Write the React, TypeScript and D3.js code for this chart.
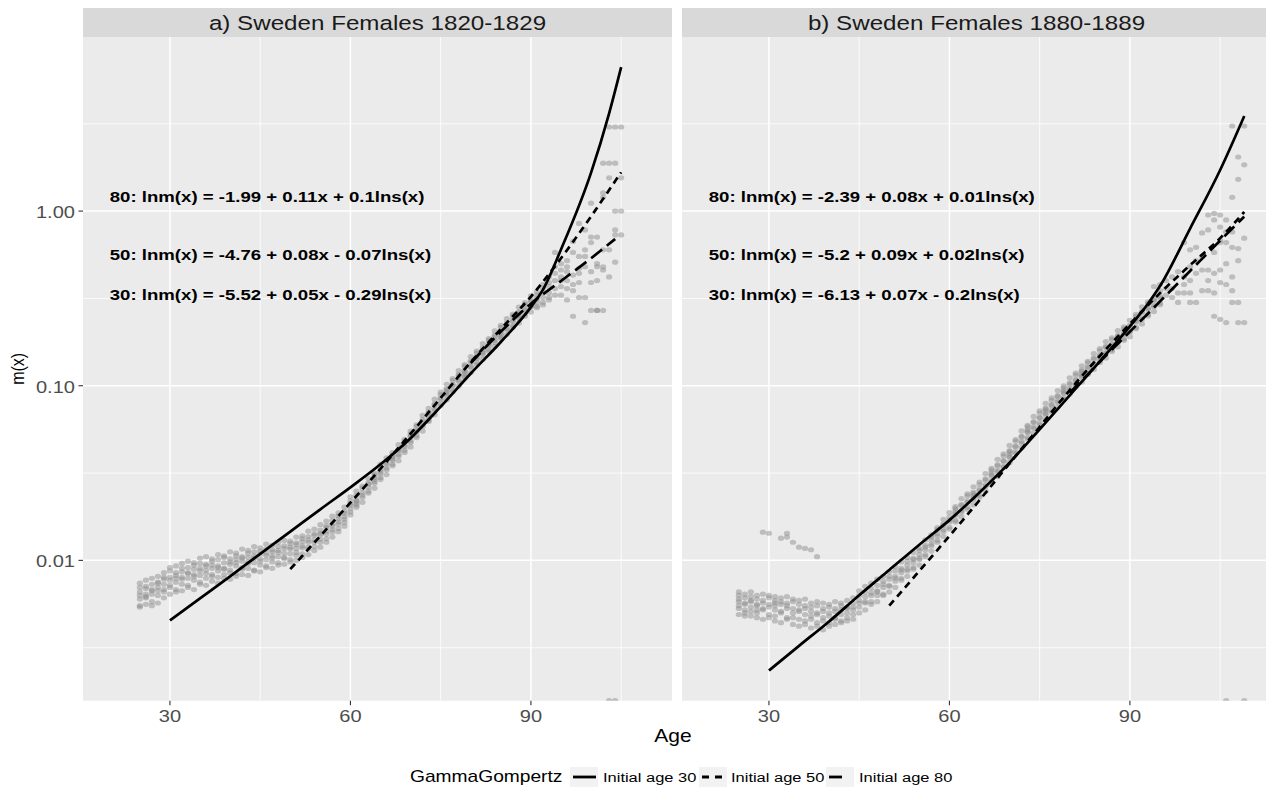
import React from "react";
import * as d3 from "d3";

// ---------------- data ----------------
const panelTitles = ["a) Sweden Females 1820-1829", "b) Sweden Females 1880-1889"];
const xMajorTicks = [30, 60, 90];
const xMinorTicks = [45, 75, 105];
const yMajorTicks = [0.01, 0.1, 1];
const yMinorTicks = [0.00316, 0.0316, 0.316, 3.16];
const legendTitle = "GammaGompertz";
const seriesNames = ["Initial age 30", "Initial age 50", "Initial age 80"];
const ageExtent = [20, 109];

// observed death rates: [age, m1, m2, ...]  (0 = zero rate, drawn at panel floor)
const pointsA: number[][] = [
  [25, 0.0054, 0.0055, 0.0060, 0.0063, 0.0066, 0.0070, 0.0074],
  [26, 0.0056, 0.0061, 0.0062, 0.0064, 0.0069, 0.0071, 0.0077],
  [27, 0.0055, 0.0058, 0.0064, 0.0067, 0.0068, 0.0073, 0.0079],
  [28, 0.0057, 0.0063, 0.0067, 0.0070, 0.0074, 0.0075, 0.0081],
  [29, 0.0061, 0.0066, 0.0068, 0.0073, 0.0078, 0.0080, 0.0085],
  [30, 0.0064, 0.0070, 0.0072, 0.0077, 0.0080, 0.0087, 0.0091],
  [31, 0.0066, 0.0068, 0.0075, 0.0079, 0.0082, 0.0085, 0.0093],
  [32, 0.0067, 0.0073, 0.0078, 0.0080, 0.0086, 0.0090, 0.0096],
  [33, 0.0070, 0.0072, 0.0079, 0.0084, 0.0085, 0.0091, 0.0099],
  [34, 0.0068, 0.0077, 0.0081, 0.0083, 0.0089, 0.0094, 0.0097],
  [35, 0.0073, 0.0075, 0.0082, 0.0087, 0.0090, 0.0096, 0.0103],
  [36, 0.0072, 0.0079, 0.0084, 0.0088, 0.0093, 0.0095, 0.0105],
  [37, 0.0076, 0.0081, 0.0083, 0.0090, 0.0094, 0.0099, 0.0102],
  [38, 0.0074, 0.0080, 0.0087, 0.0091, 0.0093, 0.0101, 0.0108],
  [39, 0.0079, 0.0083, 0.0089, 0.0090, 0.0097, 0.0104, 0.0106],
  [40, 0.0078, 0.0085, 0.0088, 0.0095, 0.0098, 0.0102, 0.0112],
  [41, 0.0081, 0.0084, 0.0093, 0.0097, 0.0101, 0.0106, 0.0110],
  [42, 0.0083, 0.0089, 0.0091, 0.0099, 0.0103, 0.0105, 0.0116],
  [43, 0.0082, 0.0090, 0.0096, 0.0098, 0.0104, 0.0110, 0.0114],
  [44, 0.0087, 0.0088, 0.0097, 0.0103, 0.0106, 0.0112, 0.0120],
  [45, 0.0086, 0.0094, 0.0099, 0.0102, 0.0109, 0.0113, 0.0118],
  [46, 0.0091, 0.0093, 0.0101, 0.0107, 0.0110, 0.0116, 0.0124],
  [47, 0.0090, 0.0098, 0.0103, 0.0106, 0.0112, 0.0115, 0.0122],
  [48, 0.0094, 0.0097, 0.0105, 0.0111, 0.0114, 0.0120, 0.0127],
  [49, 0.0095, 0.0102, 0.0104, 0.0110, 0.0117, 0.0121, 0.0130],
  [50, 0.0098, 0.0101, 0.0109, 0.0116, 0.0119, 0.0125, 0.0129],
  [51, 0.0100, 0.0107, 0.0111, 0.0117, 0.0123, 0.0126, 0.0136],
  [52, 0.0104, 0.0109, 0.0118, 0.0121, 0.0128, 0.0133, 0.0138],
  [53, 0.0108, 0.0116, 0.0119, 0.0127, 0.0131, 0.0137, 0.0147],
  [54, 0.0114, 0.0120, 0.0127, 0.0131, 0.0139, 0.0142, 0.0151],
  [55, 0.0119, 0.0127, 0.0132, 0.0140, 0.0143, 0.0149, 0.0160],
  [56, 0.0127, 0.0133, 0.0141, 0.0147, 0.0154, 0.0158, 0.0168],
  [57, 0.0136, 0.0145, 0.0150, 0.0157, 0.0161, 0.0169, 0.0179],
  [58, 0.0146, 0.0152, 0.0161, 0.0166, 0.0173, 0.0180, 0.0187],
  [59, 0.0157, 0.0165, 0.0172, 0.0178, 0.0186, 0.0191, 0.0202],
  [60, 0.0182, 0.0189, 0.0197, 0.0206, 0.0211, 0.0219, 0.0231],
  [61, 0.0201, 0.0207, 0.0219, 0.0222, 0.0236, 0.0249, 0.0212],
  [62, 0.0215, 0.0229, 0.0236, 0.0244, 0.0259, 0.0266],
  [63, 0.0243, 0.0249, 0.0262, 0.0273, 0.0278, 0.0294],
  [64, 0.0259, 0.0276, 0.0283, 0.0291, 0.0309, 0.0316, 0.0300],
  [65, 0.0290, 0.0298, 0.0313, 0.0321, 0.0330, 0.0355],
  [66, 0.0310, 0.0330, 0.0338, 0.0355, 0.0362, 0.0387],
  [67, 0.0348, 0.0356, 0.0374, 0.0381, 0.0401, 0.0414, 0.0392],
  [68, 0.0372, 0.0394, 0.0405, 0.0425, 0.0432, 0.0460],
  [69, 0.0415, 0.0427, 0.0448, 0.0457, 0.0482, 0.0493],
  [70, 0.0446, 0.0473, 0.0484, 0.0508, 0.0517, 0.0550, 0.0530],
  [71, 0.0505, 0.0518, 0.0545, 0.0556, 0.0583, 0.0598],
  [72, 0.0550, 0.0585, 0.0598, 0.0626, 0.0640, 0.0676],
  [73, 0.0625, 0.0636, 0.0665, 0.0698, 0.0707, 0.0741, 0.0680],
  [74, 0.0681, 0.0720, 0.0739, 0.0774, 0.0789, 0.0838],
  [75, 0.0770, 0.0790, 0.0832, 0.0850, 0.0890, 0.0918],
  [76, 0.0830, 0.0876, 0.0899, 0.0944, 0.0961, 0.102, 0.0920],
  [77, 0.0924, 0.0948, 0.0998, 0.102, 0.107, 0.110],
  [78, 0.0995, 0.106, 0.108, 0.114, 0.116, 0.122],
  [79, 0.111, 0.113, 0.120, 0.122, 0.129, 0.132, 0.117],
  [80, 0.119, 0.127, 0.129, 0.136, 0.139, 0.147],
  [81, 0.132, 0.136, 0.143, 0.146, 0.154, 0.158],
  [82, 0.142, 0.150, 0.154, 0.161, 0.165, 0.174, 0.157],
  [83, 0.157, 0.161, 0.169, 0.173, 0.182, 0.186],
  [84, 0.168, 0.177, 0.182, 0.191, 0.195, 0.206],
  [85, 0.186, 0.190, 0.200, 0.206, 0.216, 0.222, 0.195],
  [86, 0.197, 0.209, 0.213, 0.224, 0.229, 0.242],
  [87, 0.216, 0.221, 0.233, 0.238, 0.251, 0.257],
  [88, 0.229, 0.243, 0.247, 0.261, 0.266, 0.282, 0.253],
  [89, 0.250, 0.258, 0.271, 0.277, 0.292, 0.299],
  [90, 0.264, 0.281, 0.287, 0.303, 0.309, 0.327],
  [91, 0.285, 0.300, 0.315, 0.330, 0.345, 0.28],
  [92, 0.30, 0.32, 0.34, 0.36, 0.38, 0.29],
  [93, 0.32, 0.34, 0.37, 0.39, 0.42, 0.31],
  [94, 0.58, 0.48, 0.36, 0.40, 0.33, 0.44],
  [95, 0.50, 0.40, 0.42, 0.33, 0.46, 0.37],
  [96, 0.40, 0.48, 0.45, 0.36, 0.52, 0.31],
  [97, 0.67, 0.25, 0.35, 0.43, 0.38, 0.58],
  [98, 0.32, 0.85, 0.44, 0.39, 0.55, 0.47],
  [99, 0.32, 0.78, 0.23, 0.60, 0.55, 0.48],
  [100, 1.11, 0.66, 0.27, 0.39, 0.45, 0.71],
  [101, 0.71, 0.27, 0.40, 0.50, 0.27, 0.48],
  [102, 1.27, 0.27, 0.48, 0.60, 1.2, 0.46, 1.88],
  [103, 1.88, 3.03, 1.55, 0.60, 0.42, 0],
  [104, 1.88, 3.03, 0.78, 0.51, 1.0, 0.73, 0],
  [105, 3.03, 1.55, 1.0, 0.73],
];

const pointsB: number[][] = [
  [25, 0.0049, 0.0053, 0.0055, 0.0058, 0.0060, 0.0063, 0.0066],
  [26, 0.0050, 0.0052, 0.0056, 0.0057, 0.0061, 0.0064, 0.0048],
  [27, 0.0048, 0.0051, 0.0054, 0.0058, 0.0059, 0.0062, 0.0066],
  [28, 0.0047, 0.0050, 0.0055, 0.0056, 0.0060, 0.0063, 0.0052],
  [29, 0.0046, 0.0052, 0.0053, 0.0057, 0.0059, 0.0064, 0.0145],
  [30, 0.0047, 0.0049, 0.0054, 0.0056, 0.0061, 0.0063, 0.0143],
  [31, 0.0045, 0.0048, 0.0052, 0.0055, 0.0059, 0.0062, 0.0057],
  [32, 0.0044, 0.0050, 0.0051, 0.0056, 0.0058, 0.0061, 0.0134],
  [33, 0.0046, 0.0047, 0.0053, 0.0055, 0.0057, 0.0062, 0.0136, 0.0143],
  [34, 0.0043, 0.0047, 0.0050, 0.0053, 0.0058, 0.0060, 0.0127],
  [35, 0.0042, 0.0046, 0.0051, 0.0052, 0.0056, 0.0059, 0.0119],
  [36, 0.0043, 0.0045, 0.0049, 0.0053, 0.0055, 0.0060, 0.0117],
  [37, 0.0041, 0.0046, 0.0048, 0.0051, 0.0054, 0.0057, 0.0115],
  [38, 0.0042, 0.0044, 0.0049, 0.0050, 0.0055, 0.0058, 0.0105],
  [39, 0.0040, 0.0045, 0.0047, 0.0051, 0.0053, 0.0057],
  [40, 0.0042, 0.0044, 0.0048, 0.0050, 0.0054, 0.0056],
  [41, 0.0043, 0.0046, 0.0047, 0.0051, 0.0053, 0.0058],
  [42, 0.0044, 0.0045, 0.0049, 0.0052, 0.0055, 0.0057],
  [43, 0.0045, 0.0047, 0.0050, 0.0053, 0.0054, 0.0059],
  [44, 0.0046, 0.0049, 0.0052, 0.0054, 0.0057, 0.0061],
  [45, 0.0050, 0.0054, 0.0057, 0.0059, 0.0063, 0.0067],
  [46, 0.0052, 0.0057, 0.0058, 0.0062, 0.0066, 0.0071],
  [47, 0.0056, 0.0058, 0.0063, 0.0065, 0.0069, 0.0074],
  [48, 0.0058, 0.0063, 0.0066, 0.0067, 0.0072, 0.0078],
  [49, 0.0063, 0.0064, 0.0070, 0.0073, 0.0076, 0.0081],
  [50, 0.0066, 0.0071, 0.0072, 0.0078, 0.0081, 0.0086],
  [51, 0.0070, 0.0076, 0.0079, 0.0081, 0.0087, 0.0092],
  [52, 0.0077, 0.0079, 0.0085, 0.0088, 0.0090, 0.0098],
  [53, 0.0081, 0.0087, 0.0089, 0.0094, 0.0099, 0.0104],
  [54, 0.0089, 0.0091, 0.0097, 0.0101, 0.0103, 0.0111],
  [55, 0.0094, 0.0101, 0.0103, 0.0108, 0.0114, 0.0117],
  [56, 0.0105, 0.0108, 0.0115, 0.0119, 0.0122, 0.0131],
  [57, 0.0113, 0.0121, 0.0124, 0.0131, 0.0136, 0.0140],
  [58, 0.0127, 0.0130, 0.0138, 0.0142, 0.0150, 0.0154],
  [59, 0.0137, 0.0146, 0.0150, 0.0158, 0.0162, 0.0172],
  [60, 0.0151, 0.0155, 0.0166, 0.0170, 0.0177, 0.0188],
  [61, 0.0166, 0.0170, 0.0181, 0.0185, 0.0198, 0.0203, 0.0192],
  [62, 0.0178, 0.0189, 0.0193, 0.0206, 0.0209, 0.0226],
  [63, 0.0196, 0.0201, 0.0215, 0.0219, 0.0234, 0.0240],
  [64, 0.0208, 0.0222, 0.0228, 0.0241, 0.0246, 0.0264, 0.0235],
  [65, 0.0230, 0.0236, 0.0251, 0.0256, 0.0272, 0.0281],
  [66, 0.0249, 0.0265, 0.0271, 0.0288, 0.0293, 0.0314],
  [67, 0.0280, 0.0286, 0.0304, 0.0309, 0.0329, 0.0337, 0.0318],
  [68, 0.0302, 0.0321, 0.0328, 0.0348, 0.0353, 0.0379],
  [69, 0.0340, 0.0346, 0.0368, 0.0373, 0.0396, 0.0408],
  [70, 0.0364, 0.0388, 0.0395, 0.0420, 0.0425, 0.0455, 0.0408],
  [71, 0.0410, 0.0419, 0.0446, 0.0451, 0.0481, 0.0492],
  [72, 0.0442, 0.0470, 0.0480, 0.0508, 0.0515, 0.0551],
  [73, 0.0495, 0.0507, 0.0539, 0.0546, 0.0581, 0.0594, 0.0560],
  [74, 0.0536, 0.0570, 0.0582, 0.0616, 0.0624, 0.0667],
  [75, 0.0598, 0.0612, 0.0651, 0.0659, 0.0698, 0.0719],
  [76, 0.0640, 0.0680, 0.0694, 0.0735, 0.0744, 0.0794, 0.0717],
  [77, 0.0707, 0.0724, 0.0769, 0.0779, 0.0825, 0.0851],
  [78, 0.0757, 0.0803, 0.0820, 0.0866, 0.0877, 0.0938],
  [79, 0.0835, 0.0855, 0.0906, 0.0919, 0.0973, 0.0998, 0.0940],
  [80, 0.0897, 0.0948, 0.0968, 0.102, 0.104, 0.111],
  [81, 0.0988, 0.101, 0.107, 0.108, 0.115, 0.118],
  [82, 0.105, 0.112, 0.114, 0.121, 0.123, 0.130, 0.117],
  [83, 0.116, 0.118, 0.126, 0.128, 0.135, 0.138],
  [84, 0.124, 0.131, 0.134, 0.142, 0.144, 0.153],
  [85, 0.136, 0.139, 0.148, 0.150, 0.159, 0.163, 0.145],
  [86, 0.144, 0.153, 0.156, 0.166, 0.168, 0.179],
  [87, 0.157, 0.161, 0.171, 0.173, 0.184, 0.188],
  [88, 0.167, 0.177, 0.180, 0.191, 0.194, 0.207, 0.185],
  [89, 0.182, 0.186, 0.197, 0.200, 0.212, 0.217],
  [90, 0.191, 0.203, 0.206, 0.219, 0.222, 0.237],
  [91, 0.212, 0.216, 0.231, 0.235, 0.250, 0.256, 0.241],
  [92, 0.226, 0.240, 0.245, 0.262, 0.266, 0.283],
  [93, 0.251, 0.256, 0.274, 0.278, 0.295, 0.302],
  [94, 0.266, 0.283, 0.289, 0.307, 0.312, 0.37],
  [95, 0.291, 0.298, 0.318, 0.326, 0.35, 0.38],
  [96, 0.33, 0.40, 0.36],
  [97, 0.32, 0.36, 0.42],
  [98, 0.34, 0.45, 0.30],
  [99, 0.34, 0.42, 0.66, 0.38],
  [100, 0.34, 0.40, 0.60, 0.30, 0.48],
  [101, 0.30, 0.44, 0.62, 0.52],
  [102, 0.46, 0.75, 0.35, 0.55],
  [103, 0.35, 0.78, 0.46, 0.40, 0.95],
  [104, 0.34, 0.89, 0.44, 0.25, 0.97, 0.58],
  [105, 0.39, 0.95, 0.24, 0.81, 0.46, 0.68, 0.66],
  [106, 0.38, 0.76, 0.66, 0.23, 0.89, 0.50, 0],
  [107, 0.35, 0.76, 0.62, 0.30, 0.42, 1.2, 3.07],
  [108, 0.30, 0.61, 1.52, 2.04, 0.23, 0.52],
  [109, 1.84, 0.23, 3.07, 0.70, 0],
];

// fitted Gamma-Gompertz curves: [age, m]
const fitA30: [number, number][] = [
  [30, 0.00453], [35, 0.00606], [40, 0.0081], [45, 0.0109], [50, 0.0146], [55, 0.0196],
  [60, 0.0262], [65, 0.0355], [70, 0.0501], [75, 0.0759], [80, 0.1175], [85, 0.178],
  [90, 0.282], [92, 0.355], [95, 0.603], [100, 1.66], [103, 3.63], [105, 6.67],
];
const fitA50: [number, number][] = [
  [50, 0.0089], [55, 0.0138], [60, 0.0214], [65, 0.0335], [70, 0.0531], [75, 0.0851],
  [80, 0.1365], [85, 0.211], [90, 0.324], [95, 0.537], [100, 0.933], [105, 1.67],
];
const fitA80: [number, number][] = [
  [80, 0.135], [85, 0.204], [90, 0.295], [95, 0.398], [100, 0.537], [104, 0.692],
];
const fitB30: [number, number][] = [
  [30, 0.00234], [35, 0.00324], [40, 0.00447], [45, 0.00631], [50, 0.00881], [55, 0.0123],
  [60, 0.0170], [65, 0.0245], [70, 0.0363], [75, 0.0562], [80, 0.0881], [85, 0.138],
  [90, 0.219], [93, 0.295], [95, 0.372], [100, 0.794], [105, 1.72], [109, 3.5],
];
const fitB50: [number, number][] = [
  [50, 0.0055], [55, 0.0087], [60, 0.0138], [65, 0.0221], [70, 0.0359], [75, 0.0582],
  [80, 0.0944], [85, 0.148], [90, 0.226], [95, 0.339], [100, 0.490], [105, 0.700], [109, 0.989],
];
const fitB80: [number, number][] = [
  [80, 0.091], [85, 0.137], [90, 0.204], [95, 0.304], [100, 0.454], [105, 0.678], [109, 0.93],
];

const equationsA = [
  "80: lnm(x) = -1.99 + 0.11x + 0.1lns(x)",
  "50: lnm(x) = -4.76 + 0.08x - 0.07lns(x)",
  "30: lnm(x) = -5.52 + 0.05x - 0.29lns(x)",
];
const equationsB = [
  "80: lnm(x) = -2.39 + 0.08x + 0.01lns(x)",
  "50: lnm(x) = -5.2 + 0.09x + 0.02lns(x)",
  "30: lnm(x) = -6.13 + 0.07x - 0.2lns(x)",
];
const equationY = [1.2, 0.56, 0.33];
const equationAge = 20;

// ---------------- layout ----------------
const W = 1266;
const H = 787;
const STRIP_TOP = 8;
const PANEL_TOP = 37;
const PANEL_BOTTOM = 700.7;
const PANEL_X = [83, 682];
const PANEL_W = 589;
const FONT = "'Liberation Sans', Arial, Helvetica, sans-serif";
const SX = 1.2;
const DASHES = ["none", "7 5", "14 6"];
const KEY_DASHES = ["none", "7 6", "13 20"];

const panels = [
  { title: panelTitles[0], points: pointsA, fits: [fitA30, fitA50, fitA80], eqs: equationsA },
  { title: panelTitles[1], points: pointsB, fits: [fitB30, fitB50, fitB80], eqs: equationsB },
];

const allFitVals = [fitA30, fitA50, fitA80, fitB30, fitB50, fitB80].flat().map((d) => Math.log10(d[1]));
const [lLo, lHi] = d3.extent(allFitVals) as [number, number];
const lPad = (lHi - lLo) * 0.05;
const yScale = d3
  .scaleLog()
  .domain([Math.pow(10, lLo - lPad), Math.pow(10, lHi + lPad)])
  .range([PANEL_BOTTOM, PANEL_TOP]);
const xPad = (ageExtent[1] - ageExtent[0]) * 0.05;
const xDomain = [ageExtent[0] - xPad, ageExtent[1] + xPad];

function SText(props: {
  x: number; y: number; size: number; anchor?: string; fill?: string; weight?: string | number; sx?: number; rotate?: boolean; children: React.ReactNode;
}) {
  const { x, y, size, anchor = "start", fill = "#000", weight = "normal", sx = SX, rotate = false } = props;
  const tf = rotate ? `translate(${x},${y}) rotate(-90) scale(1,${sx})` : `translate(${x},${y}) scale(${sx},1)`;
  return (
    <text transform={tf} textAnchor={anchor as any} dominantBaseline="central" fontSize={size} fontFamily={FONT} fill={fill} fontWeight={weight as any}>
      {props.children}
    </text>
  );
}

function Panel({ idx }: { idx: number }) {
  const p = panels[idx];
  const x0 = PANEL_X[idx];
  const xScale = d3.scaleLinear().domain(xDomain).range([x0, x0 + PANEL_W]);
  const line = d3
    .line<[number, number]>()
    .x((d) => xScale(d[0]))
    .y((d) => yScale(d[1]))
    .curve(d3.curveMonotoneX);
  const clipId = `clip${idx}`;
  const pts: { a: number; v: number }[] = [];
  p.points.forEach((row) => row.slice(1).forEach((v) => pts.push({ a: row[0], v })));
  return (
    <g>
      <defs>
        <clipPath id={clipId}>
          <rect x={x0} y={PANEL_TOP} width={PANEL_W} height={PANEL_BOTTOM - PANEL_TOP} />
        </clipPath>
      </defs>
      <rect x={x0} y={STRIP_TOP} width={PANEL_W} height={PANEL_TOP - STRIP_TOP} fill="#D9D9D9" />
      <SText x={x0 + PANEL_W / 2} y={(STRIP_TOP + PANEL_TOP) / 2 + 0.5} size={19.5} anchor="middle" fill="#1A1A1A" sx={1.24}>
        {p.title}
      </SText>
      <rect x={x0} y={PANEL_TOP} width={PANEL_W} height={PANEL_BOTTOM - PANEL_TOP} fill="#EBEBEB" />
      <g clipPath={`url(#${clipId})`}>
        {yMinorTicks.map((t) => (
          <line key={"ym" + t} x1={x0} x2={x0 + PANEL_W} y1={yScale(t)} y2={yScale(t)} stroke="#fff" strokeWidth={0.8} />
        ))}
        {xMinorTicks.map((t) => (
          <line key={"xm" + t} x1={xScale(t)} x2={xScale(t)} y1={PANEL_TOP} y2={PANEL_BOTTOM} stroke="#fff" strokeWidth={0.8} />
        ))}
        {yMajorTicks.map((t) => (
          <line key={"yM" + t} x1={x0} x2={x0 + PANEL_W} y1={yScale(t)} y2={yScale(t)} stroke="#fff" strokeWidth={1.5} />
        ))}
        {xMajorTicks.map((t) => (
          <line key={"xM" + t} x1={xScale(t)} x2={xScale(t)} y1={PANEL_TOP} y2={PANEL_BOTTOM} stroke="#fff" strokeWidth={1.5} />
        ))}
        {pts.map((d, i) => (
          <ellipse
            key={i}
            cx={xScale(d.a)}
            cy={d.v > 0 ? yScale(d.v) : PANEL_BOTTOM}
            rx={3.1}
            ry={2.6}
            fill="#8A8A8A"
            fillOpacity={0.48}
          />
        ))}
        {p.fits.map((f, i) => (
          <path key={"f" + i} d={line(f) || ""} fill="none" stroke="#000" strokeWidth={2.7} strokeDasharray={DASHES[i]} />
        ))}
        {p.eqs.map((t, i) => (
          <SText key={"e" + i} x={xScale(equationAge)} y={yScale(equationY[i])} size={15.5} weight="bold" sx={1.2}>
            {t}
          </SText>
        ))}
      </g>
      {xMajorTicks.map((t) => (
        <g key={"xt" + t}>
          <line x1={xScale(t)} x2={xScale(t)} y1={PANEL_BOTTOM} y2={PANEL_BOTTOM + 4.5} stroke="#333" strokeWidth={1.1} />
          <SText x={xScale(t)} y={716} size={17} anchor="middle" fill="#4D4D4D" sx={1.18}>
            {String(t)}
          </SText>
        </g>
      ))}
    </g>
  );
}

export default function App() {
  const fmt = d3.format(".2f");
  const legendKeys = [570, 699, 826];
  const legendLabelX = [603, 731, 859];
  const legendY = 777;
  return (
    <div style={{ position: "fixed", left: 0, top: 0, width: W, height: H, background: "#fff" }}>
      <svg width={W} height={H} style={{ display: "block" }}>
        <rect x={0} y={0} width={W} height={H} fill="#fff" />
        <Panel idx={0} />
        <Panel idx={1} />
        {yMajorTicks.map((t) => (
          <g key={"yt" + t}>
            <line x1={PANEL_X[0] - 4.5} x2={PANEL_X[0]} y1={yScale(t)} y2={yScale(t)} stroke="#333" strokeWidth={1.1} />
            <SText x={PANEL_X[0] - 8} y={yScale(t) + 1} size={17} anchor="end" fill="#4D4D4D" sx={1.18}>
              {fmt(t)}
            </SText>
          </g>
        ))}
        <SText x={17} y={(PANEL_TOP + PANEL_BOTTOM) / 2} size={16} anchor="middle" rotate sx={1.2}>
          m(x)
        </SText>
        <SText x={(PANEL_X[0] + PANEL_X[1] + PANEL_W) / 2 - 4} y={736} size={17.5} anchor="middle" sx={1.2}>
          Age
        </SText>
        <SText x={410} y={legendY} size={16} sx={1.2}>
          {legendTitle}
        </SText>
        {seriesNames.map((s, i) => (
          <g key={s}>
            <rect x={legendKeys[i]} y={legendY - 10} width={28} height={20} fill="#F2F2F2" />
            <line
              x1={legendKeys[i] + 3}
              x2={legendKeys[i] + 26}
              y1={legendY}
              y2={legendY}
              stroke="#000"
              strokeWidth={2.8}
              strokeDasharray={KEY_DASHES[i]}
            />
            <SText x={legendLabelX[i]} y={legendY} size={13.5} sx={1.22}>
              {s}
            </SText>
          </g>
        ))}
      </svg>
    </div>
  );
}
